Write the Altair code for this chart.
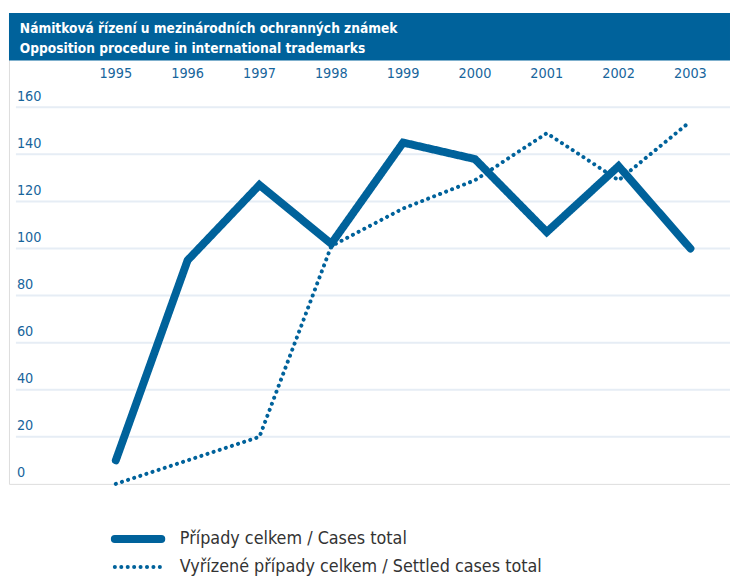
import altair as alt
import pandas as pd

# ---- data ----
years = [1995, 1996, 1997, 1998, 1999, 2000, 2001, 2002, 2003]
cases_total = [10, 95, 127, 102, 145, 138, 107, 135, 100]
settled_total = [0, 10, 20, 101, 117, 129, 149, 129, 154]
series_names = [
    "Případy celkem / Cases total",
    "Vyřízené případy celkem / Settled cases total",
]
y_ticks = [0, 20, 40, 60, 80, 100, 120, 140, 160]
grid_ticks = [20, 40, 60, 80, 100, 120, 140, 160]
title_lines = [
    "Námitková řízení u mezinárodních ochranných známek",
    "Opposition procedure in international trademarks",
]

FONT = "DejaVu Sans Condensed, DejaVu Sans, sans-serif"
DARK = "#00629b"
LIGHT = "#b9cfe4"
LABEL = "#17659c"

lines_df = pd.DataFrame({
    "year": years + years,
    "value": cases_total + settled_total,
    "series": [series_names[0]] * len(years) + [series_names[1]] * len(years),
})
legend_df = pd.DataFrame({"series": series_names})

x_scale = alt.Scale(domain=[1993.513, 2003.551], nice=False, zero=False)
y_scale = alt.Scale(domain=[0, 200], nice=False)

# shared series styling scales (used by the lines and by the legend keys)
color_scale = alt.Scale(domain=series_names, range=[DARK, DARK])
dash_scale = alt.Scale(domain=series_names, range=[[1, 0], [0.1, 6.4]])
width_scale = alt.Scale(domain=series_names, range=[8, 4])
# legend row placement (below the plot area)
legend_row_scale = alt.Scale(type="point", domain=series_names, range=[531.7, 560], padding=0)

header = alt.Chart(pd.DataFrame({"h": [0]})).mark_rect(color=DARK).encode(
    x=alt.value(0), x2=alt.value(729), y=alt.value(0), y2=alt.value(48)
)

title = alt.Chart(pd.DataFrame({"t": ["\n".join(title_lines)]})).mark_text(
    align="left", baseline="alphabetic", lineBreak="\n", lineHeight=20,
    font=FONT, fontSize=13.8, fontWeight="bold", color="white"
).encode(x=alt.value(11), y=alt.value(20), text="t:N")

grid = alt.Chart(pd.DataFrame({"tick": grid_ticks})).mark_rule(
    color="#e6edf5", strokeWidth=2
).encode(
    y=alt.Y("tick:Q", scale=y_scale, axis=None),
    x=alt.value(7),
    x2=alt.value(729),
)

ylabels = alt.Chart(pd.DataFrame({"tick": y_ticks})).mark_text(
    align="left", baseline="alphabetic", dy=-6.5, font=FONT, fontSize=14.5, color=LABEL
).encode(
    y=alt.Y("tick:Q", scale=y_scale, axis=None),
    x=alt.value(8),
    text=alt.Text("tick:Q", format="d"),
)

xlabels = alt.Chart(pd.DataFrame({"year": years})).mark_text(
    align="center", baseline="alphabetic", font=FONT, fontSize=14.5, color=LABEL
).encode(
    x=alt.X("year:Q", scale=x_scale, axis=None),
    y=alt.value(66),
    text=alt.Text("year:Q", format="d"),
)

lines = alt.Chart(lines_df).mark_line(strokeCap="round", strokeJoin="miter").encode(
    x=alt.X("year:Q", scale=x_scale, axis=None),
    y=alt.Y("value:Q", scale=y_scale, axis=None),
    color=alt.Color("series:N", scale=color_scale, legend=None),
    strokeDash=alt.StrokeDash("series:N", scale=dash_scale, legend=None),
    strokeWidth=alt.StrokeWidth("series:N", scale=width_scale, legend=None),
)

legend_keys = alt.Chart(legend_df).mark_rule(strokeCap="round").encode(
    x=alt.value(107),
    x2=alt.value(154),
    y=alt.Y("series:N", scale=legend_row_scale, axis=None),
    color=alt.Color("series:N", scale=color_scale, legend=None),
    strokeDash=alt.StrokeDash("series:N", scale=dash_scale, legend=None),
    strokeWidth=alt.StrokeWidth("series:N", scale=width_scale, legend=None),
)

legend_labels = alt.Chart(legend_df).mark_text(
    align="left", baseline="middle", font=FONT, fontSize=18, color="#333333"
).encode(
    x=alt.value(172.7),
    y=alt.Y("series:N", scale=legend_row_scale, axis=None),
    text="series:N",
)

chart = alt.layer(
    header, title, grid, ylabels, xlabels, lines, legend_keys, legend_labels
).resolve_scale(y="independent").properties(
    width=729,
    height=476,
    padding={"left": 1, "top": 2, "right": 0, "bottom": 94},
    autosize=alt.AutoSizeParams(type="none"),
).configure_view(fill=LIGHT, strokeWidth=0).configure(background="white")

chart.save("out.html", embed_options={"renderer": "svg", "actions": False})
